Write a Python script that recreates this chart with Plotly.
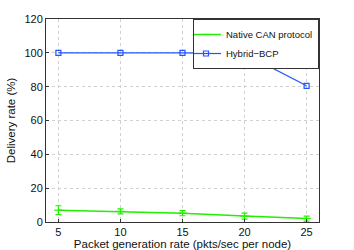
import plotly.graph_objects as go

rates = [5, 10, 15, 20, 25]
native_can = [7.0, 6.3, 5.2, 3.5, 2.0]
native_can_err = [2.6, 1.5, 1.5, 1.8, 1.5]
hybrid_bcp = [100, 100, 100, 99.5, 80.5]
y_ticks = [0, 20, 40, 60, 80, 100, 120]

fig = go.Figure()
fig.add_trace(go.Scatter(
    x=rates, y=native_can, name="Native CAN protocol", mode="lines+markers",
    line=dict(color="#22ee00", width=1.5),
    marker=dict(symbol="line-ew", size=6, line=dict(color="#22ee00", width=1.2)),
    error_y=dict(type="data", array=native_can_err, color="#22ee00", thickness=1.2, width=3),
))
fig.add_trace(go.Scatter(
    x=rates, y=hybrid_bcp, name="Hybrid\u2212BCP", mode="lines+markers",
    line=dict(color="#2255ff", width=1.2),
    marker=dict(symbol="square-open", size=5, color="#2255ff", line=dict(width=1.2)),
))

axis_common = dict(showline=True, linecolor="#333", linewidth=1, mirror=True,
                   ticks="inside", ticklen=3, tickcolor="#333", automargin=False,
                   showgrid=True, gridcolor="#d0d0d0", griddash="dot", gridwidth=1,
                   zeroline=False, tickfont=dict(size=11, color="#111"))
fig.update_xaxes(range=[4, 26], tickvals=rates, **axis_common,
                 title=dict(text="Packet generation rate (pkts/sec per node)", font=dict(size=11.5, color="#111"), standoff=0))
fig.update_yaxes(range=[0, 120], tickvals=y_ticks, **axis_common,
                 title=dict(text="Delivery rate (%)", font=dict(size=11.5, color="#111"), standoff=6))
fig.update_layout(
    width=354, height=250,
    margin=dict(l=46, r=35, t=19, b=28, autoexpand=False),
    paper_bgcolor="white", plot_bgcolor="white",
    font=dict(family="Liberation Sans, Arial, sans-serif", size=11, color="#111"),
    showlegend=True,
    legend=dict(x=1, y=1, xanchor="right", yanchor="top",
                bgcolor="white", bordercolor="#333", borderwidth=1,
                font=dict(size=9.5), tracegroupgap=0, itemwidth=30,
                indentation=-8),
)
fig.write_html("out.html", config={"displayModeBar": False},
               post_script="document.body.style.margin='0';document.body.style.padding='0';")
